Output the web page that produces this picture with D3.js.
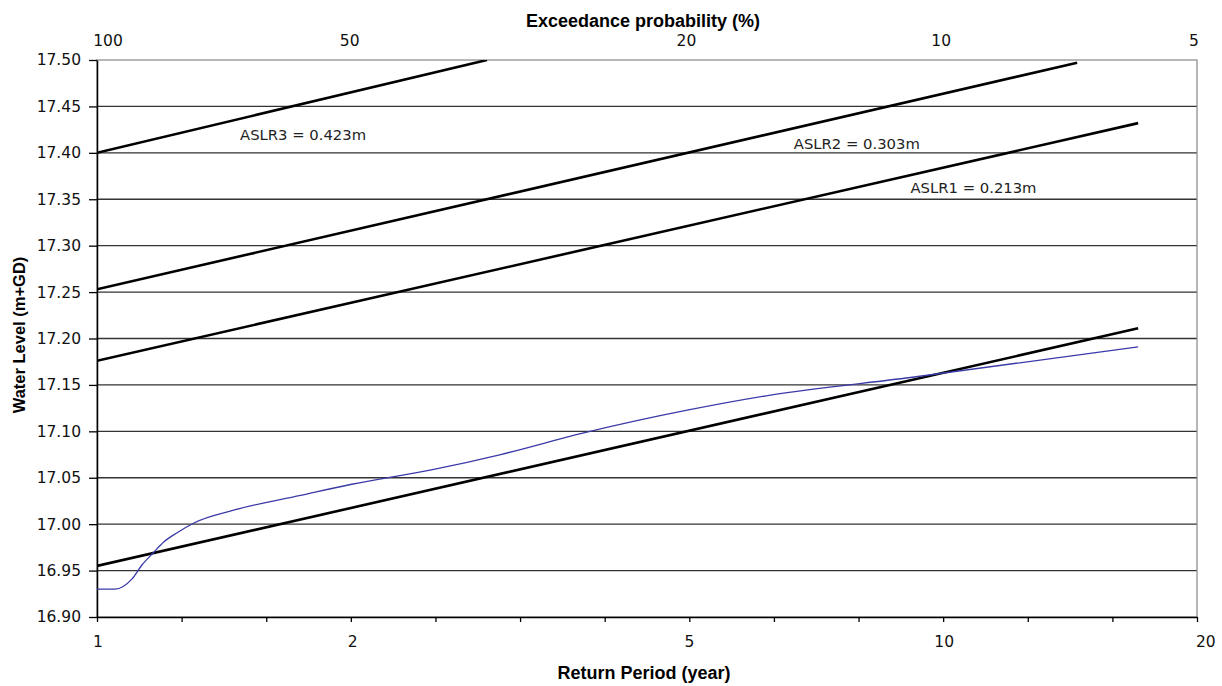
<!DOCTYPE html>
<html>
<head>
<meta charset="utf-8">
<script src="https://cdn.jsdelivr.net/npm/d3@7"></script>
<style>
  body { margin: 0; background: #fff; }
  text { font-family: "DejaVu Sans", Arial, sans-serif; }
  .title { font-family: "Liberation Sans", Arial, sans-serif; font-weight: bold; }
</style>
</head>
<body>
<script>
window.onload = main;

// Return period (year) and water level (m+GD)
const observedT     = [1.0, 1.05, 1.10, 1.13, 1.165, 1.2, 1.245, 1.3, 1.45, 1.74, 2.0, 2.5, 3.0, 3.75, 5.0, 6.25, 9.15, 17.0];
const observedLevel = [16.930, 16.930, 16.941, 16.956, 16.969, 16.981, 16.991, 17.001, 17.015, 17.031, 17.043, 17.059, 17.075, 17.098, 17.123, 17.139, 17.158, 17.191];

const baseT      = [1.0, 17.0];
const baseLevel  = [16.955, 17.211];
const aslr1T     = [1.0, 17.0];
const aslr1Level = [17.176, 17.432];
const aslr2T     = [1.0, 14.4];
const aslr2Level = [17.253, 17.497];
const aslr3T     = [1.0, 2.89];
const aslr3Level = [17.400, 17.500];

const aslrLabels = ["ASLR1 = 0.213m", "ASLR2 = 0.303m", "ASLR3 = 0.423m"];
// label anchor points (return period, level)
const labelT     = [9.15, 6.66, 1.476];
const labelLevel = [17.357, 17.404, 17.414];

const bottomTickLabels = [1, 2, 5, 10, 20];
const topTickLabels    = [100, 50, 20, 10, 5];   // exceedance probability (%)

const svgWidth = 1222;
const svgHeight = 686;
const margin = {top: 60, right: 25, bottom: 69, left: 97};
const chartWidth = svgWidth - margin.left - margin.right;
const chartHeight = svgHeight - margin.top - margin.bottom;

function main() {
    const svg = d3.select("body").append("svg")
        .attr("width", svgWidth)
        .attr("height", svgHeight);

    const x = d3.scaleLog()
        .domain([1, Math.pow(10, 1.3)])
        .range([0, chartWidth]);
    const y = d3.scaleLinear()
        .domain([16.90, 17.50])
        .range([chartHeight, 0]);

    const g = svg.append("g")
        .attr("transform", `translate(${margin.left},${margin.top})`);

    svg.append("defs").append("clipPath").attr("id", "plot")
        .append("rect").attr("width", chartWidth).attr("height", chartHeight);

    // gridlines
    const yTicks = d3.range(0, 13).map(i => 16.90 + i * 0.05);
    g.append("g").selectAll("line")
        .data(yTicks.slice(1, -1))
        .join("line")
        .attr("x1", 0).attr("x2", chartWidth)
        .attr("y1", d => y(d)).attr("y2", d => y(d))
        .attr("stroke", "#333")
        .attr("stroke-width", 1.4);

    // plot border (top / right)
    g.append("rect")
        .attr("width", chartWidth).attr("height", chartHeight)
        .attr("fill", "none")
        .attr("stroke", "#888")
        .attr("stroke-width", 1.2);

    // y axis
    const yAxis = g.append("g")
        .call(d3.axisLeft(y).tickValues(yTicks).tickFormat(d3.format(".2f"))
            .tickSize(8).tickPadding(8).tickSizeOuter(0));
    yAxis.select(".domain").attr("stroke", "#000").attr("stroke-width", 1.5);
    yAxis.selectAll(".tick line").attr("stroke", "#000").attr("stroke-width", 1.3);
    yAxis.selectAll(".tick text")
        .attr("font-size", 15.5).attr("fill", "#111")
        .attr("font-family", "DejaVu Sans");

    // x axis (ticks every 0.1 in log10)
    const xTicks = d3.range(0, 14).map(i => Math.pow(10, i * 0.1));
    const xAxis = g.append("g")
        .attr("transform", `translate(0,${chartHeight})`)
        .call(d3.axisBottom(x).tickValues(xTicks).tickFormat("").tickSize(5).tickSizeOuter(0));
    xAxis.select(".domain").attr("stroke", "#000").attr("stroke-width", 1.5);
    xAxis.selectAll(".tick line").attr("stroke", "#000").attr("stroke-width", 1.3);

    g.append("g").selectAll("text")
        .data(bottomTickLabels)
        .join("text")
        .attr("x", d => x(d) + (d === 20 ? 8 : 1))
        .attr("y", chartHeight + 30)
        .attr("text-anchor", "middle")
        .attr("font-size", 15.5)
        .attr("fill", "#111")
        .text(d => d);

    g.append("g").selectAll("text")
        .data(topTickLabels)
        .join("text")
        .attr("x", d => x(100 / d) + (d === 100 ? 11 : (d === 5 ? -4 : -2)))
        .attr("y", -14)
        .attr("text-anchor", "middle")
        .attr("font-size", 15.5)
        .attr("fill", "#111")
        .text(d => d);

    // axis titles
    svg.append("text").attr("class", "title")
        .attr("x", 643).attr("y", 27)
        .attr("text-anchor", "middle")
        .attr("font-size", 18)
        .text("Exceedance probability (%)");
    svg.append("text").attr("class", "title")
        .attr("x", 644).attr("y", 679)
        .attr("text-anchor", "middle")
        .attr("font-size", 18)
        .text("Return Period (year)");
    svg.append("text").attr("class", "title")
        .attr("transform", `translate(25,335) rotate(-90)`)
        .attr("text-anchor", "middle")
        .attr("font-size", 16.5)
        .text("Water Level (m+GD)");

    const line = d3.line()
        .x(d => x(d[0]))
        .y(d => y(d[1]));

    const lines = g.append("g").attr("clip-path", "url(#plot)");

    const blackSeries = [
        d3.zip(baseT, baseLevel),
        d3.zip(aslr1T, aslr1Level),
        d3.zip(aslr2T, aslr2Level),
        d3.zip(aslr3T, aslr3Level)
    ];
    lines.selectAll("path.aslr")
        .data(blackSeries)
        .join("path")
        .attr("class", "aslr")
        .attr("d", line)
        .attr("fill", "none")
        .attr("stroke", "#000")
        .attr("stroke-width", 2.6);

    lines.append("path")
        .datum(d3.zip(observedT, observedLevel))
        .attr("d", line.curve(d3.curveMonotoneX))
        .attr("fill", "none")
        .attr("stroke", "#3a3aa8")
        .attr("stroke-width", 1.3);

    g.append("g").selectAll("text")
        .data(aslrLabels)
        .join("text")
        .attr("x", (d, i) => x(labelT[i]))
        .attr("y", (d, i) => y(labelLevel[i]))
        .attr("font-size", 14.8)
        .attr("fill", "#222")
        .text(d => d);
}
</script>
</body>
</html>
